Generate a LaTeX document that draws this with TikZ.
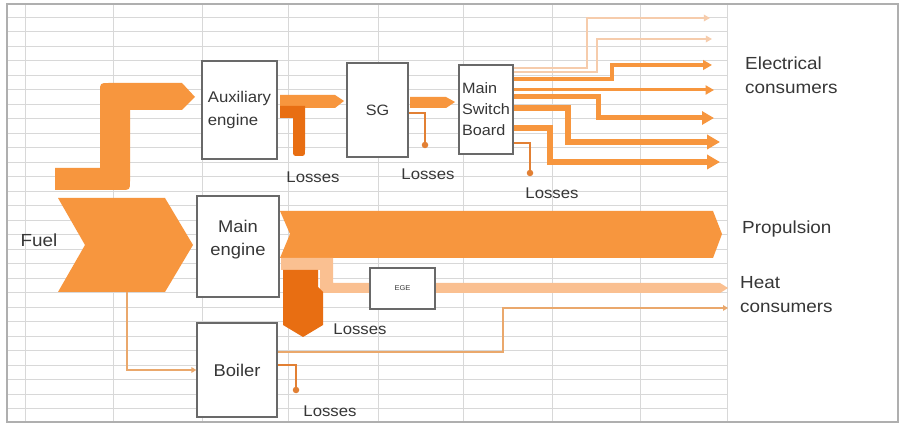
\documentclass[tikz,border=0pt]{standalone}
\usepackage{fontspec}
\setmainfont[FakeStretch=1.08]{Liberation Sans}
\usepackage{tikz}
\usetikzlibrary{arrows.meta, positioning, calc}
\definecolor{sankeyorange}{RGB}{247,150,62}
\definecolor{sankeydark}{RGB}{232,110,18}
\definecolor{sankeyheat}{RGB}{250,192,145}
\definecolor{sankeypale}{RGB}{246,204,172}
\definecolor{sankeytan}{RGB}{234,168,108}
\definecolor{sankeyloss}{RGB}{226,128,52}
\definecolor{boxgray}{RGB}{105,105,105}
\definecolor{gridgray}{RGB}{216,216,216}
\definecolor{framegray}{RGB}{175,175,175}
\definecolor{txtgray}{RGB}{55,55,55}

\begin{document}
\begin{tikzpicture}[x=1pt, y=-1pt,
  box/.style={draw=boxgray, line width=1.2pt, fill=white, inner sep=0pt, text=txtgray},
  lbl/.style={text=txtgray, inner sep=0pt, align=left, font=\fontsize{17.5}{24}\selectfont},
  losslbl/.style={text=txtgray, inner sep=0pt, font=\fontsize{15.5}{18}\selectfont},
  lossline/.style={draw=sankeyloss, line width=1.8pt},
  lossdot/.style={fill=sankeyloss, circle, inner sep=0pt, minimum size=6.5pt},
  feed/.style={draw=sankeytan, line width=2.6pt, -{Triangle[length=5pt, width=5.5pt]}}]
  \useasboundingbox (0,0) rectangle (902,427);
  \fill[white] (0,0) rectangle (902,427);
  % spreadsheet grid
  \foreach \k in {0,...,27}
    \draw[gridgray, line width=0.8pt] (7,17+14.5*\k) -- (727,17+14.5*\k);
  \foreach \gx in {25,113,202,288,378,463,552,640,727}
    \draw[gridgray, line width=0.8pt] (\gx,4) -- (\gx,422);
  \draw[framegray, line width=1.2pt] (7,4) rectangle (898,422);

  % fuel
  \fill[sankeyorange] (58,198) -- (165,198) -- (193,245) -- (165,292) -- (58,292) -- (85,245) -- cycle;
  \fill[sankeyorange] (55,168) -- (100,168) -- (100,92) .. controls (100,83) .. (109,83) -- (182,83)
    -- (195,97) -- (182,110) -- (130,110) -- (130,181) .. controls (130,190) .. (121,190) -- (55,190) -- cycle;
  % main engine
  \fill[sankeyorange] (280,211) -- (713,211) -- (722,234) -- (713,258) -- (280,258) -- (290,234) -- cycle;
  \fill[sankeyheat] (281,258) -- (333,258) -- (333,283) -- (720,283) -- (728,288) -- (720,293)
    -- (320,293) -- (320,270) -- (281,270) -- cycle;
  \fill[sankeydark] (283,270) -- (318,270) -- (318,287) -- (323,292) -- (323,325) -- (303,337) -- (283,325) -- cycle;
  % auxiliary engine and generator
  \fill[sankeyorange] (280,95) -- (335,95) -- (344,101) -- (335,108) -- (280,108) -- cycle;
  \fill[sankeydark] (280,106) -- (305,106) -- (305,150) .. controls (305,156) .. (299,156)
    .. controls (293,156) .. (293,150) -- (293,118) -- (280,118) -- cycle;
  \fill[sankeyorange] (410,97) -- (446,97) -- (455,102) -- (446,108) -- (410,108) -- cycle;

  \node[box, minimum width=75pt, minimum height=98pt, align=left, font=\fontsize{15.5}{23}\selectfont] (aux) at (239.5,110) {Auxiliary\\engine};
  \node[box, minimum width=61pt, minimum height=94pt, font=\fontsize{15}{18}\selectfont] (sg) at (377.5,110) {SG};
  \node[box, minimum width=54pt, minimum height=89pt, align=left, font=\fontsize{15}{21}\selectfont] (msb) at (486,109.5) {Main\\Switch\\Board};
  \node[box, minimum width=82pt, minimum height=101pt, align=center, font=\fontsize{17}{23}\selectfont] (me) at (238,246.5) {Main\\engine\\[-6pt]};
  \node[box, minimum width=65pt, minimum height=41pt, font=\fontsize{7}{8}\selectfont] (ege) at (402.5,288.5) {EGE};
  \node[box, minimum width=80pt, minimum height=94pt, font=\fontsize{17}{20}\selectfont] (boiler) at (237,370) {Boiler};

  % electrical consumers
  \foreach \i/\dy/\xt/\ye/\xe/\w/\c in {1/41.5/587/18/710/1.8/sankeypale, 2/37.5/597/39/712/1.8/sankeypale,
      3/30.5/612/65/712/3.2/sankeyorange, 4/19.5/600/90/714/3/sankeyorange, 5/12.5/598/118/714/5/sankeyorange,
      6/1.5/568/142/720/5.5/sankeyorange, 7/-18.5/550/162/720/5.5/sankeyorange} {
    \coordinate (el\i) at (\xe,\ye);
    \draw[\c, line width=\w pt, -{Triangle[length=3pt 1.8, width=3pt 2]}]
      ([yshift=\dy pt]msb.east) -| (\xt,\ye) -- (el\i);
  }

  % losses
  \node[lossdot] (sgloss) at (425,145) {};
  \node[lossdot] (msbloss) at (530,173) {};
  \node[lossdot] (boilerloss) at (296,390) {};
  \draw[lossline] ([yshift=-3pt]sg.east) -| (sgloss.center);
  \draw[lossline] ([yshift=-33.5pt]msb.east) -| (msbloss.center);
  \draw[lossline] ([yshift=5pt]boiler.east) -| (boilerloss.center);

  % boiler
  \coordinate (fuelbot) at (127,292);
  \coordinate (heatend) at (728,308);
  \draw[feed] (fuelbot) |- (boiler.west);
  \draw[feed] ([yshift=18pt]boiler.east) -| (503,308) -- (heatend);

  \node[lbl, anchor=center] (fuel) at (39,240) {Fuel};
  \node[lbl, anchor=west] (elec) at (745,75) {Electrical\\consumers};
  \node[lbl, anchor=west] (prop) at (742,229) {Propulsion};
  \node[lbl, anchor=west] (heat) at (740,295) {Heat\\consumers};
  \node[losslbl] (auxlosslbl) at (313,177) {Losses};
  \node[losslbl] (sglosslbl) at (428,174) {Losses};
  \node[losslbl] (msblosslbl) at (552,193) {Losses};
  \node[losslbl] (melosslbl) at (360,329) {Losses};
  \node[losslbl] (boilerlosslbl) at (330,411) {Losses};
\end{tikzpicture}
\end{document}
